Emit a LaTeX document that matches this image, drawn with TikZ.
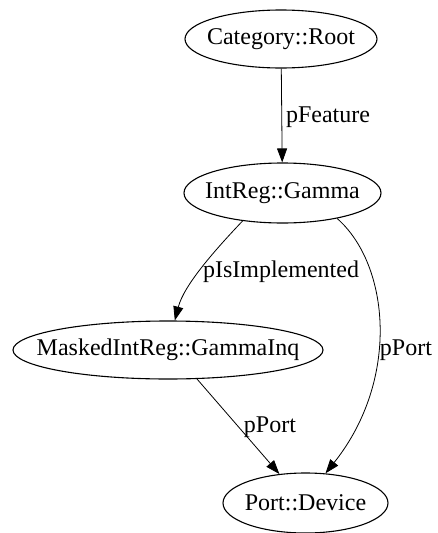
\documentclass[tikz,border=0pt]{standalone}
\usepackage{fontspec}
\setmainfont{Liberation Serif}
\usepackage{tikz}
\usetikzlibrary{arrows.meta,shapes.geometric}

\tikzset{
  obj/.style={draw, ellipse, line width=1.1pt, inner xsep=-30pt, inner ysep=0pt,
    minimum height=58pt, font=\fontsize{24}{28}\selectfont},
  lbl/.style={inner sep=0pt, font=\fontsize{24}{28}\selectfont},
  rel/.style={line width=0.8pt, -{Triangle[length=14pt,width=10pt]}}
}

\begin{document}
\begin{tikzpicture}[x=1pt, y=-1pt]

    %% Background
    \useasboundingbox (0,0) rectangle (437,533);

    % Objects
    \node[obj, minimum width=192pt] (root)   at (281,39)    {Category::Root};
    \node[obj, minimum width=197pt, minimum height=60pt] (intreg) at (282.5,193) {IntReg::Gamma};
    \node[obj, minimum width=310pt] (masked) at (168,350)   {MaskedIntReg::GammaInq};
    \node[obj, minimum width=165pt, minimum height=60pt] (port) at (305.5,503) {Port::Device};

    % Relations
    \draw[rel] (root) -- (intreg);
    \draw[rel] (intreg.-145) .. controls (215,250) and (184,285) .. (masked.77);
    \draw[rel] (intreg.-25) .. controls (390,265) and (400,380) .. (port.56);
    \draw[rel] (masked.-45) -- (port.132);

    % Labels
    \node[lbl] (lfeature) at (328,117) {pFeature};
    \node[lbl] (limpl)    at (281,272) {pIsImplemented};
    \node[lbl] (lportr)   at (406,350) {pPort};
    \node[lbl] (lportl)   at (270,427) {pPort};

\end{tikzpicture}
\end{document}
